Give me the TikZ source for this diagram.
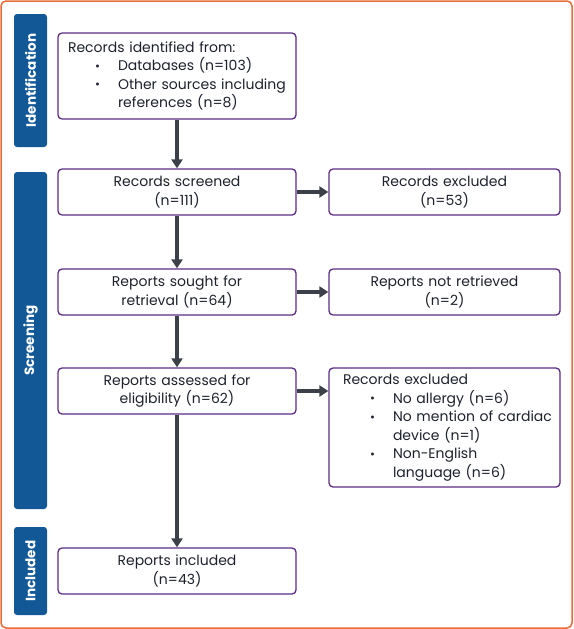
\documentclass[tikz,border=0pt]{standalone}
\usepackage{fontspec}
\setmainfont{Poppins}
\usepackage{tikz}
\usetikzlibrary{arrows.meta}

\definecolor{phaseblue}{RGB}{18,88,150}
\definecolor{boxpurple}{RGB}{92,45,132}
\definecolor{arrowgrey}{RGB}{60,64,72}
\definecolor{frameorange}{RGB}{232,108,58}
\definecolor{textdark}{RGB}{30,34,44}

\newcommand{\bitem}[1]{\mbox{\makebox[50pt][l]{\hspace*{27pt}\raisebox{0.3pt}{\fontsize{12}{12}\selectfont\textbullet}}#1}}
\newcommand{\bcont}[1]{\mbox{\hspace*{50pt}#1}}

\begin{document}
\begin{tikzpicture}[x=1pt,y=-1pt]

\useasboundingbox (0,0) rectangle (573,629);
\draw [frameorange, line width=1.5pt, rounded corners=5pt] (1,1) rectangle (572,628);

\begin{scope}[every node/.style={rotate=90,fill=phaseblue,rounded corners=3pt,text=white,minimum height=33pt,inner sep=0pt,font=\fontsize{13.5}{16}\selectfont\bfseries}]
	%Phases
	\node (p_id) at (30.5, 80.5) [minimum width=133pt] {Identification};
	\node (p_scr) at (30.5, 340.5) [minimum width=337pt] {Screening};
	\node (p_inc) at (30.5, 571) [minimum width=88pt] {Included};
\end{scope}

\begin{scope}[every node/.style={draw=boxpurple,line width=1.3pt,rounded corners=4pt,fill=white,text=textdark,align=center,minimum height=46pt,inner xsep=10pt,inner ysep=2pt,font=\fontsize{14}{18.5}\selectfont}]
	%Identification
	\node (b_id) at (177, 76) [text width=218pt, minimum height=86pt, align=left] {Records identified from:\\ \bitem{Databases (n=103)}\\ \bitem{Other sources including}\\ \bcont{references (n=8)}};

	%Screening
	\node (b_scr) at (177, 192) [text width=218pt] {Records screened\\(n=111)};
	\node (b_exc1) at (444.5, 192) [text width=211pt] {Records excluded\\(n=53)};

	\node (b_sou) at (177, 292) [text width=218pt] {Reports sought for\\retrieval (n=64)};
	\node (b_ret) at (444.5, 292) [text width=211pt] {Reports not retrieved\\(n=2)};

	\node (b_ass) at (177, 391) [text width=218pt] {Reports assessed for\\eligibility (n=62)};
	\node (b_exc2) at (444.5, 427.5) [text width=203pt, inner xsep=14pt, minimum height=119pt, align=left] {Records excluded\\ \bitem{No allergy (n=6)}\\ \bitem{No mention of cardiac}\\ \bcont{device (n=1)}\\ \bitem{Non-English}\\ \bcont{language (n=6)}};

	%Included
	\node (b_inc) at (177, 571) [text width=218pt] {Reports included\\(n=43)};
\end{scope}

\begin{scope}[style={draw=arrowgrey,line width=4.5pt,-{Triangle[length=9pt,width=11pt]}}]
	%Down
	\path (b_id) edge node {} (b_scr);
	\path (b_scr) edge node {} (b_sou);
	\path (b_sou) edge node {} (b_ass);
	\path (b_ass) edge node {} (b_inc);

	%Right
	\path (b_scr) edge node {} (b_exc1);
	\path (b_sou) edge node {} (b_ret);
	\path (b_ass.east) edge node {} (b_ass.east -| b_exc2.west);
\end{scope}

\end{tikzpicture}
\end{document}
